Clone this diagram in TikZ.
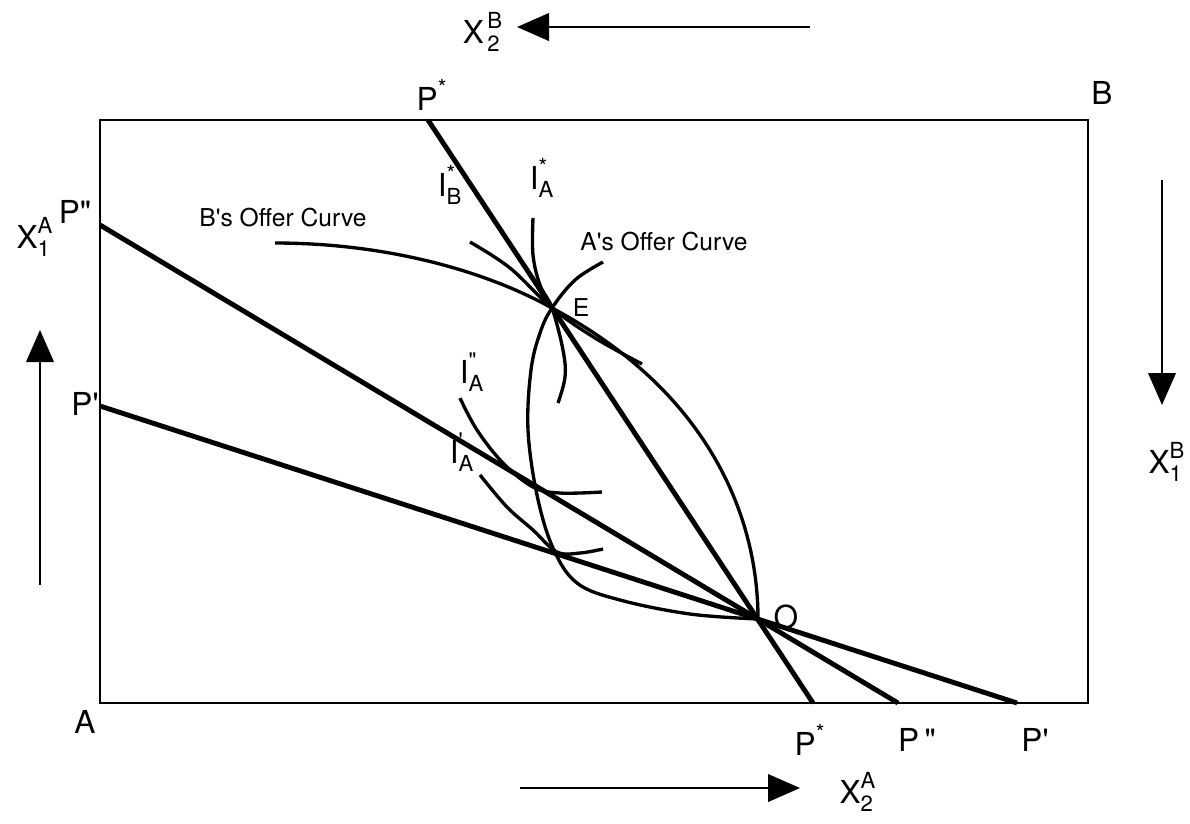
\documentclass[tikz,border=0pt]{standalone}
\usepackage{fontspec}
\usepackage{amsmath}
\setmainfont{TeX Gyre Heros}[Ligatures=TeXOff]
\usetikzlibrary{arrows.meta}
\newcommand{\lab}[3]{$\text{#1}^{\text{#2}}_{\text{#3}}$}
\begin{document}
\begin{tikzpicture}[x=0.02cm,y=-0.02cm,
  every node/.style={font=\fontsize{18}{20}\selectfont},
  small/.style={font=\fontsize{14}{16}\selectfont},
  price/.style={line width=2.8pt},
  curve/.style={line width=1.9pt},
  axis/.style={line width=1.3pt,-{Triangle[length=0.64cm,width=0.55cm]}}]
\useasboundingbox (0,0) rectangle (1190,823);
% Box
\coordinate (A) at (100,703);
\coordinate (B) at (1088,120);
\draw[line width=1.6pt] (A) rectangle (B);
\node (labA) at (85,722) {A};
\node (labB) at (1102,93) {B};
% Price lines
\coordinate (E) at (552,308);
\coordinate (O) at (758,619);
\coordinate (Pst1) at (428,120); \coordinate (Pst2) at (813,703);
\coordinate (Pdd1) at (100,225); \coordinate (Pdd2) at (898,703);
\coordinate (Pd1) at (100,406); \coordinate (Pd2) at (1017,703);
\draw[price] (Pst1) -- (Pst2);
\draw[price] (Pdd1) -- (Pdd2);
\draw[price] (Pd1) -- (Pd2);
\node (labPst1) at (432,95) {$\text{P}^{\text{*}}$};
\node (labPdd1) at (75,212) {P"};
\node (labPd1) at (85,404) {P'};
\node (labPst2) at (810,740) {$\text{P}^{\text{*}}$};
\node (labPdd2) at (917,740) {P\,"};
\node (labPd2) at (1035,740) {P'};
% Offer curves
\draw[curve] plot[smooth,tension=0.6] coordinates {(O) (690,614) (620,600) (577,583) (553,548) (537,495) (528,430) (531,370) (540,333) (E) (575,280) (603,262)};
\draw[curve] (275,243) .. controls (380,243) and (480,268) .. (E) .. controls (702,388) and (758,509) .. (O);
\node[small] (offB) at (283,218) {B's Offer Curve};
\node[small] (offA) at (664,242) {A's Offer Curve};
% Indifference curves
\draw[curve] plot[smooth,tension=0.6] coordinates {(470,242) (510,268) (E) (595,338) (642,364)};
\draw[curve] plot[smooth,tension=0.6] coordinates {(533,218) (533,255) (540,285) (E) (563,350) (565,377) (558,403)};
\draw[curve] plot[smooth,tension=0.6] coordinates {(460,398) (477,430) (503,463) (533,487) (560,493) (602,492)};
\draw[curve] plot[smooth,tension=0.6] coordinates {(480,475) (507,507) (533,530) (557,552) (580,553) (603,549)};
\node (IBst) at (450,185) {\lab{I}{*}{B}};
\node (IAst) at (542,178) {\lab{I}{*}{A}};
\node (IAdd) at (472,372) {\lab{I}{"}{A}};
\node (IAd) at (462,452) {\lab{I}{'}{A}};
\node (labE) at (581,308) {\fontsize{14}{16}\selectfont E};
\node (labO) at (786,617) {O};
% Axes
\coordinate (xBtwo1) at (810,27); \coordinate (xBtwo2) at (517,27);
\coordinate (xAone1) at (40,585); \coordinate (xAone2) at (40,330);
\coordinate (xBone1) at (1162,180); \coordinate (xBone2) at (1162,405);
\coordinate (xAtwo1) at (520,788); \coordinate (xAtwo2) at (800,788);
\draw[axis] (xBtwo1) -- (xBtwo2);
\draw[axis] (xAone1) -- (xAone2);
\draw[axis] (xBone1) -- (xBone2);
\draw[axis] (xAtwo1) -- (xAtwo2);
\node (labXBtwo) at (483,32) {$\text{X}^{\,\text{B}}_{\,\text{2}}$};
\node (labXAone) at (35,237) {\lab{X}{A}{1}};
\node (labXBone) at (1167,462) {\lab{X}{B}{1}};
\node (labXAtwo) at (858,792) {\lab{X}{A}{2}};
\end{tikzpicture}
\end{document}
